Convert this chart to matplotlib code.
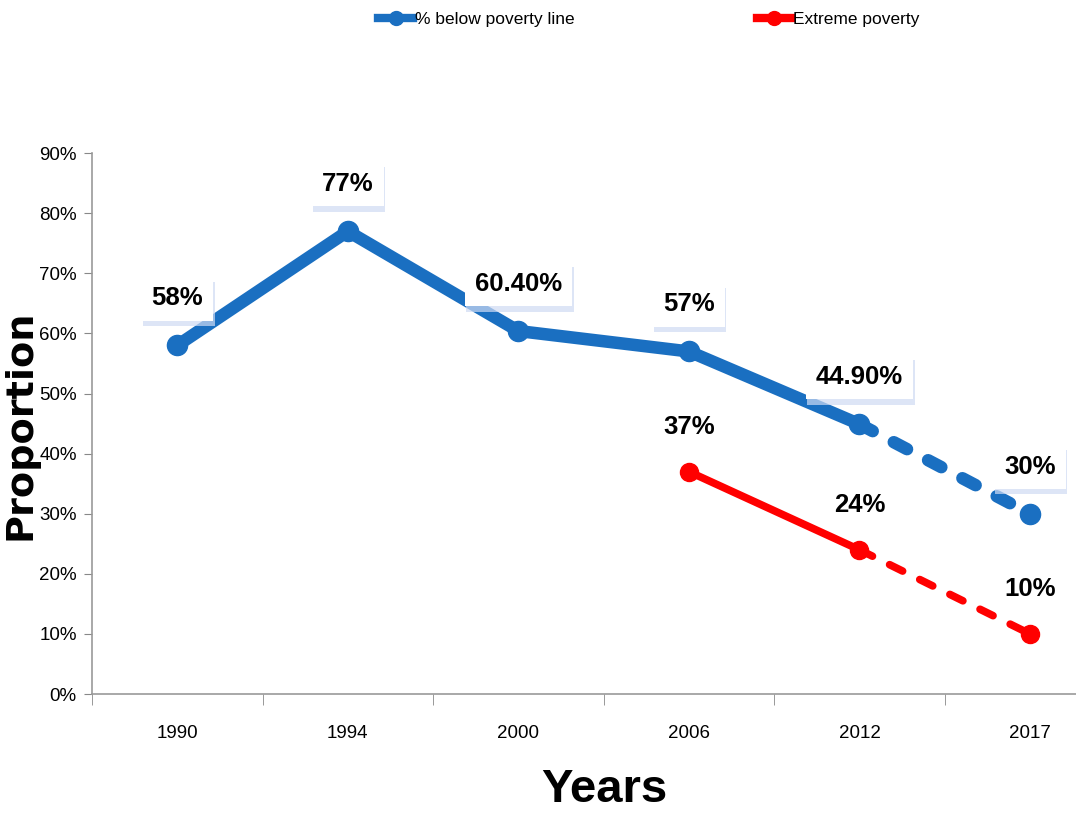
import matplotlib
matplotlib.use("Agg")
from matplotlib import pyplot as plt
from matplotlib import patheffects as pe
from matplotlib.lines import Line2D
import numpy as np

years = ["1990", "1994", "2000", "2006", "2012", "2017"]
below_line = [58, 77, 60.4, 57, 44.9, 30]
below_labels = ["58%", "77%", "60.40%", "57%", "44.90%", "30%"]
extreme = [None, None, None, 37, 24, 10]
extreme_labels = ["", "", "", "37%", "24%", "10%"]

blue = "#1a6fc1"
red = "#ff0000"
narrow = ["Liberation Sans Narrow", "Liberation Sans", "DejaVu Sans"]

fig = plt.figure(figsize=(10.76, 8.22), dpi=100)
# axes run a bit past the right edge of the figure on purpose
ax = fig.add_axes([0.0855, 0.1557, 0.951, 0.658])

x = np.arange(len(years))
yb = np.array(below_line, dtype=float)
ye = np.array([np.nan if v is None else v for v in extreme], dtype=float)

# solid part up to 2012, dashed projection to 2017
ax.plot(x[:5], yb[:5], color=blue, lw=9, solid_capstyle="round", zorder=3)
ax.plot(x[4:], yb[4:], color=blue, lw=9, ls=(0, (1.2, 1.9)), dash_capstyle="round", zorder=3)
ax.plot(x, yb, ls="none", marker="o", ms=14.5, color=blue, zorder=4)

ax.plot(x[3:5], ye[3:5], color=red, lw=5.5, solid_capstyle="round", zorder=3)
ax.plot(x[4:], ye[4:], color=red, lw=5.5, ls=(0, (1.9, 2.5)), dash_capstyle="round", zorder=3)
ax.plot(x, ye, ls="none", marker="o", ms=13, color=red, zorder=4)

shadow = [pe.SimplePatchShadow(offset=(1, -4), shadow_rgbFace="#cfdbf3", alpha=0.7), pe.Normal()]
for xi, v, lab in zip(x, below_line, below_labels):
    t = ax.annotate(lab, (xi, v), xytext=(0, 34), textcoords="offset points",
                    ha="center", va="center", fontsize=18.5, fontweight="bold",
                    family=narrow, color="black", zorder=5,
                    bbox=dict(boxstyle="square,pad=0.4", fc="white", ec="none"))
    t.get_bbox_patch().set_path_effects(shadow)

for xi, v, lab in zip(x, extreme, extreme_labels):
    if v is None:
        continue
    ax.annotate(lab, (xi, v), xytext=(0, 32), textcoords="offset points",
                ha="center", va="center", fontsize=18.5, fontweight="bold",
                family=narrow, color="black", zorder=5)

ax.set_xlim(-0.5, len(years) - 0.5)
ax.set_ylim(0, 90)
ax.set_yticks(range(0, 91, 10))
ax.set_yticklabels([f"{t}%" for t in range(0, 91, 10)], family=narrow, fontsize=13.5)
ax.set_xticks(x)
ax.set_xticklabels(years, family=narrow, fontsize=13.5)
ax.set_xticks(np.arange(-0.5, len(years), 1), minor=True)
ax.tick_params(axis="x", which="major", length=0, pad=22)
ax.tick_params(axis="x", which="minor", length=8, color="#888888")
ax.tick_params(axis="y", length=6, color="#888888", pad=5)

for side in ["top", "right"]:
    ax.spines[side].set_visible(False)
for side in ["left", "bottom"]:
    ax.spines[side].set_color("#999999")
    ax.spines[side].set_linewidth(1.2)

fig.text(0.562, 0.039, "Years", ha="center", va="center", fontsize=34,
         fontweight="bold", family=narrow)
fig.text(0.019, 0.483, "Proportion", ha="center", va="center", rotation=90,
         fontsize=27.5, fontweight="bold", family="DejaVu Sans")

handles = [Line2D([], [], color=blue, lw=6, marker="o", ms=10),
           Line2D([], [], color=red, lw=6, marker="o", ms=10)]
fig.legend(handles, ["% below poverty line", "Extreme poverty"],
           loc="center", bbox_to_anchor=(0.603, 0.976), ncol=2, frameon=False,
           prop={"family": narrow, "size": 12.5}, handlelength=2.0,
           handletextpad=0.1, columnspacing=10.5)

fig.savefig("out.png", dpi=100)
